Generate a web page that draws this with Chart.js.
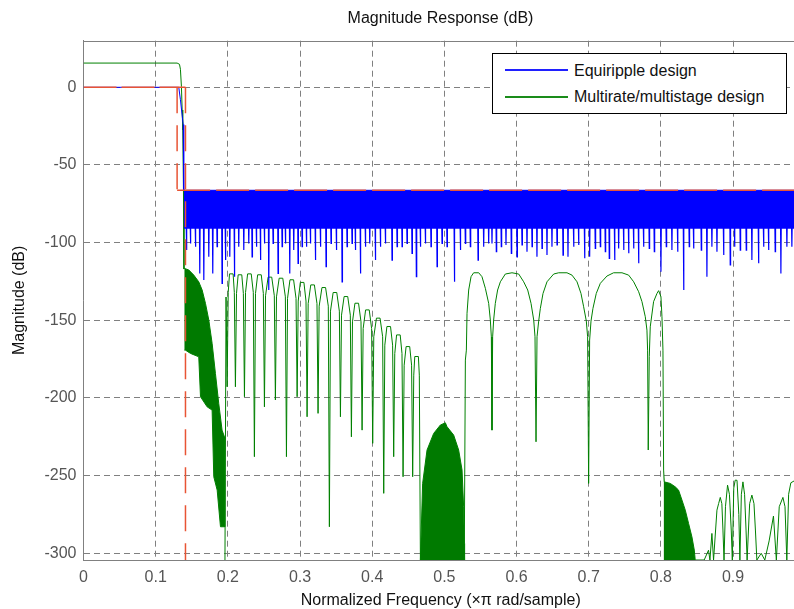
<!DOCTYPE html>
<html lang="en">
<head>
<meta charset="UTF-8">
<title>Magnitude Response (dB)</title>
<style>
    html, body { margin: 0; padding: 0; background: #fff; overflow: hidden; }
    #wrap { position: relative; width: 798px; height: 609px; }
    #title { position: absolute; left: 0; top: 9px; width: 881px; text-align: center; font: 16px/18px "Liberation Sans", Arial, sans-serif; color: #111; }
    #legend { position: absolute; left: 492px; top: 53px; width: 293px; height: 59px; border: 1px solid #000; background: #fff; font: 16px/18px "Liberation Sans", Arial, sans-serif; color: #111; }
    .swatch { position: absolute; left: 12px; width: 63px; height: 2px; }
    .label { position: absolute; left: 81px; white-space: nowrap; }
</style>
</head>
<body>
<div id="wrap">
    <canvas id="chart" width="798" height="609"></canvas>
    <div id="title">Magnitude Response (dB)</div>
    <div id="legend">
        <div class="swatch" style="top:15px;background:#2020ff"></div>
        <div class="label" style="top:8px">Equiripple design</div>
        <div class="swatch" style="top:42px;background:#1a8c1a"></div>
        <div class="label" style="top:34px">Multirate/multistage design</div>
    </div>
</div>

<script src="https://cdn.jsdelivr.net/npm/chart.js"></script>
<script>
    // axis ranges (normalized frequency, dB)
    const xRange = [0, 0.99];
    const yRange = [-304.3, 30];

    // specification mask (red dashed)
    const maskPassband = [[0, 0], [0.1413, 0]];
    const maskPassEdge = [[0.1413, 0], [0.1413, -304.3]];
    const maskStopEdge = [[0.1297, 0], [0.1297, -66.3]];
    const maskStopband = [[0.1297, -66.3], [0.99, -66.3]];

    // equiripple design
    const bluePassband = [[0, 0], [0.1320, 0], [0.1343, -8], [0.1381, -24], [0.1389, -66.3]];
    const blueBand = [[0.1389, -66.3], [0.99, -66.3]];
    const blueBandFloor = -91;
    const blueSpikeBase = -86;
    const blueSpikes = [
        [0.1427, -104.8], [0.1482, -100.5], [0.1551, -102.6], [0.1611, -119.8], [0.1667, -124.1],
        [0.1736, -109.1], [0.1791, -119.8], [0.1851, -102.6], [0.1920, -126.2], [0.1967, -111.2],
        [0.2027, -109.1], [0.2091, -121.9], [0.2151, -102.6], [0.2221, -104.8], [0.2290, -100.5],
        [0.2336, -109.1], [0.2396, -102.6], [0.2452, -111.2], [0.2507, -100.5], [0.2567, -130.5],
        [0.2627, -100.5], [0.2696, -119.8], [0.2752, -102.6], [0.2798, -100.5], [0.2858, -119.8],
        [0.2913, -104.8], [0.2973, -113.3], [0.3029, -102.6], [0.3089, -102.6], [0.3144, -100.5],
        [0.3213, -111.2], [0.3283, -102.6], [0.3361, -115.5], [0.3430, -100.5], [0.3504, -104.8],
        [0.3583, -125.2], [0.3652, -102.6], [0.3721, -100.5], [0.3767, -104.8], [0.3837, -119.8],
        [0.3906, -102.6], [0.3966, -100.5], [0.4044, -111.2], [0.4114, -102.6], [0.4183, -100.5],
        [0.4275, -111.2], [0.4345, -102.6], [0.4414, -102.6], [0.4483, -100.5], [0.4552, -106.9],
        [0.4612, -121.9], [0.4668, -102.6], [0.4737, -100.5], [0.4815, -102.6], [0.4899, -115.5],
        [0.4968, -100.5], [0.5037, -102.6], [0.5139, -125.2], [0.5222, -104.8], [0.5291, -100.5],
        [0.5360, -102.6], [0.5467, -111.2], [0.5545, -102.6], [0.5614, -100.5], [0.5660, -100.5],
        [0.5720, -105.8], [0.5789, -102.6], [0.5854, -101.5], [0.5928, -106.9], [0.6007, -109.1],
        [0.6076, -101.5], [0.6145, -105.8], [0.6215, -102.6], [0.6283, -109.1], [0.6353, -103.7],
        [0.6422, -108.0], [0.6491, -102.6], [0.6561, -101.5], [0.6644, -108.0], [0.6713, -109.1],
        [0.6791, -102.6], [0.6860, -101.5], [0.6943, -110.1], [0.7013, -109.1], [0.7091, -103.7],
        [0.7161, -102.6], [0.7230, -105.8], [0.7285, -110.1], [0.7359, -111.2], [0.7415, -103.7],
        [0.7484, -104.8], [0.7553, -106.9], [0.7622, -103.7], [0.7691, -113.3], [0.7760, -102.6],
        [0.7839, -103.7], [0.7909, -105.8], [0.8001, -118.7], [0.8075, -102.6], [0.8153, -104.8],
        [0.8232, -105.8], [0.8315, -130.5], [0.8393, -102.6], [0.8453, -103.7], [0.8560, -104.8],
        [0.8638, -121.9], [0.8707, -102.6], [0.8777, -105.8], [0.8869, -108.0], [0.8961, -114.4],
        [0.9021, -102.6], [0.9100, -104.8], [0.9183, -104.8], [0.9261, -111.2], [0.9353, -113.3],
        [0.9423, -102.6], [0.9492, -104.8], [0.9584, -105.8], [0.9663, -119.8], [0.9746, -102.6],
        [0.9815, -102.6]
    ];

    // multirate/multistage design
    const greenPassband = [
        [0, 15.6], [0.1297, 15.6], [0.1330, 14.8], [0.1343, 11.6], [0.1357, 0.4],
        [0.1367, -14.6], [0.1375, -27.5], [0.1385, -66], [0.1392, -117]
    ];
    const greenHump1 = [
        [0.1399, -116.6], [0.1459, -117.6], [0.1528, -120.9], [0.1597, -125.2], [0.1644, -130.5],
        [0.1690, -139.1], [0.1736, -149.8], [0.1782, -164.8], [0.1828, -184.2], [0.1874, -203.5],
        [0.1920, -220.7], [0.1953, -225], [0.1957, -282.9], [0.1898, -282.9], [0.1852, -259.3],
        [0.1805, -250.7], [0.1782, -207.8], [0.1713, -205.7], [0.1621, -199.2], [0.1597, -173.5],
        [0.1482, -171.3], [0.1413, -169.2], [0.1399, -169.2]
    ];
    const greenLobes = [
        [0.1960, -304.3], [0.1975, -135], [0.1990, -192.8],
        [0.2005, -132.1], [0.2023, -120.1], [0.2073, -120.1], [0.2090, -132.1], [0.2105, -192.8],
        [0.2120, -132.7], [0.2143, -120.7], [0.2193, -120.7], [0.2215, -132.7], [0.2230, -199.2],
        [0.2245, -132.1], [0.2274, -120.1], [0.2324, -120.1], [0.2353, -132.1], [0.2368, -237.8],
        [0.2383, -132.7], [0.2413, -120.7], [0.2463, -120.7], [0.2492, -132.7], [0.2507, -205.7],
        [0.2522, -134.2], [0.2558, -122.2], [0.2608, -122.2], [0.2644, -134.2], [0.2659, -201.3],
        [0.2674, -134.9], [0.2711, -122.9], [0.2761, -122.9], [0.2797, -134.9], [0.2812, -237.8],
        [0.2827, -135.9], [0.2861, -123.9], [0.2911, -123.9], [0.2945, -135.9], [0.2960, -199.2],
        [0.2975, -137.6], [0.3004, -125.6], [0.3054, -125.6], [0.3083, -137.6], [0.3098, -212.1],
        [0.3113, -139.2], [0.3149, -127.2], [0.3199, -127.2], [0.3235, -139.2], [0.3250, -209.9],
        [0.3265, -140.9], [0.3304, -128.9], [0.3354, -128.9], [0.3392, -140.9], [0.3407, -282.9],
        [0.3422, -144.1], [0.3459, -132.1], [0.3509, -132.1], [0.3545, -144.1], [0.3560, -212.1],
        [0.3575, -146.7], [0.3611, -134.7], [0.3661, -134.7], [0.3697, -146.7], [0.3712, -225],
        [0.3727, -151.0], [0.3761, -139.0], [0.3811, -139.0], [0.3845, -151.0], [0.3860, -220.7],
        [0.3875, -155.3], [0.3909, -143.3], [0.3959, -143.3], [0.3992, -155.3], [0.4007, -229.2],
        [0.4022, -160.6], [0.4059, -148.6], [0.4109, -148.6], [0.4145, -160.6], [0.4160, -261.4],
        [0.4175, -166.0], [0.4204, -154.0], [0.4254, -154.0], [0.4283, -166.0], [0.4298, -237.8],
        [0.4313, -171.4], [0.4338, -159.4], [0.4388, -159.4], [0.4413, -171.4], [0.4428, -250.7],
        [0.4443, -178.9], [0.4470, -166.9], [0.4520, -166.9], [0.4546, -178.9], [0.4561, -250.7],
        [0.4576, -185.3], [0.4590, -173.3], [0.4640, -173.3], [0.4653, -185.3], [0.4668, -304.3]
    ];
    const greenHump2 = [
        [0.4668, -304.3], [0.4699, -255], [0.4760, -233.5], [0.4852, -222.8], [0.4945, -217.4],
        [0.5014, -216], [0.5037, -218.5], [0.5129, -223.9], [0.5198, -233.5], [0.5245, -246.4],
        [0.5267, -270], [0.5277, -293.6], [0.5280, -304.3]
    ];
    const greenArcs = [
        [0.5277, -293.6], [0.5291, -175.6], [0.5305, -169.2], [0.5314, -145.5], [0.5337, -130.5],
        [0.5370, -121.9], [0.5406, -119.4], [0.5476, -119.4], [0.5521, -121.9], [0.5568, -129.4],
        [0.5614, -139.1], [0.5637, -149.8], [0.5651, -160.6], [0.5660, -220.7],
        [0.5669, -160.6], [0.5683, -149.8], [0.5706, -139.1], [0.5738, -130.5], [0.5776, -125.2],
        [0.5845, -120.2], [0.5937, -119.4], [0.6030, -120.2], [0.6099, -125.2], [0.6155, -130.5],
        [0.6201, -139.1], [0.6238, -149.8], [0.6256, -160.6], [0.6270, -228.2],
        [0.6284, -160.6], [0.6307, -150.5], [0.6330, -142.3], [0.6367, -132.7], [0.6422, -125.2],
        [0.6515, -120.2], [0.6584, -119.4], [0.6699, -119.4], [0.6768, -120.9], [0.6838, -125.2],
        [0.6893, -132.7], [0.6930, -141.3], [0.6967, -150.5], [0.6985, -160.6], [0.6999, -255],
        [0.7013, -162.7], [0.7032, -150.5], [0.7059, -142.3], [0.7105, -132.7], [0.7161, -126.2],
        [0.7253, -121.5], [0.7345, -119.4], [0.7461, -119.4], [0.7553, -120.9], [0.7623, -125.2],
        [0.7692, -131.6], [0.7738, -138.0], [0.7784, -147.7], [0.7807, -156.3], [0.7816, -169.2],
        [0.7825, -233.5], [0.7839, -173.4], [0.7853, -154.2], [0.7899, -138.0], [0.7946, -132.7],
        [0.7969, -130.9], [0.8001, -134.8], [0.8015, -147.7], [0.8029, -169.2], [0.8038, -246.4]
    ];
    const greenHump3 = [
        [0.8038, -246.4], [0.8047, -254], [0.8130, -255], [0.8199, -257.2], [0.8245, -259.3],
        [0.8292, -265.7], [0.8338, -272.2], [0.8384, -280.8], [0.8430, -289.4], [0.8463, -297.9],
        [0.8476, -304.3]
    ];
    const greenTail = [
        [0.8476, -304.3], [0.8600, -304.3], [0.8660, -298], [0.8680, -304.3], [0.8707, -287.2],
        [0.8730, -304.3], [0.8777, -272.2], [0.8800, -268], [0.8823, -264], [0.8845, -268],
        [0.8860, -285], [0.8875, -304.3], [0.8895, -270], [0.8924, -256.1], [0.8950, -262],
        [0.8975, -285], [0.8990, -304.3], [0.9010, -258], [0.9030, -252.9], [0.9055, -253],
        [0.9080, -275], [0.9095, -304.3], [0.9115, -262], [0.9137, -254], [0.9160, -262],
        [0.9180, -285], [0.9195, -304.3], [0.9230, -268], [0.9261, -262.5], [0.9290, -268],
        [0.9310, -285], [0.9330, -304.3], [0.9390, -300], [0.9440, -304.3], [0.9500, -292],
        [0.9560, -276], [0.9600, -304.3], [0.9640, -270], [0.9691, -264], [0.9720, -270],
        [0.9745, -304.3], [0.9770, -262], [0.9801, -254.6], [0.9900, -252]
    ];

    const BLUE = '#0000ff';
    const GREEN = '#008000';
    const RED = 'rgb(232, 84, 52)';
    const FONT = '"Liberation Sans", Arial, sans-serif';

    const pts = arr => arr.map(([x, y]) => ({x, y}));

    function lineSet(data, color, extra) {
        return Object.assign({
            data: pts(data),
            borderColor: color,
            backgroundColor: color,
            borderWidth: 1,
            pointRadius: 0,
            tension: 0,
            fill: false
        }, extra || {});
    }

    const spikeData = blueSpikes.flatMap(([x, d]) => [
        [x - 0.0005, blueSpikeBase], [x, d], [x + 0.0005, blueSpikeBase]
    ]);

    // top edge of the axes box
    const frame = {
        id: 'frame',
        beforeDatasetsDraw(chart) {
            const {ctx, chartArea: a} = chart;
            const y = Math.round(a.top) + 0.5;
            ctx.save();
            ctx.strokeStyle = '#808080';
            ctx.lineWidth = 1;
            ctx.beginPath();
            ctx.moveTo(a.left, y);
            ctx.lineTo(a.right, y);
            ctx.stroke();
            ctx.restore();
        }
    };

    new Chart(document.getElementById('chart'), {
        type: 'line',
        data: {
            datasets: [
                lineSet(maskPassband, RED, {order: 0, borderWidth: 1.5, borderDash: [33, 5]}),
                lineSet(maskPassEdge, RED, {order: 0, borderWidth: 1.5, borderDash: [26, 12]}),
                lineSet(maskStopEdge, RED, {order: 0, borderWidth: 1.5, borderDash: [26, 12]}),
                lineSet(maskStopband, RED, {order: 0, borderWidth: 1.5, borderDash: [33, 6]}),
                lineSet(bluePassband, BLUE, {order: 1}),
                lineSet(blueBand, BLUE, {order: 1, fill: {value: blueBandFloor}}),
                lineSet(spikeData, BLUE, {order: 1, borderWidth: 1.2}),
                lineSet(greenPassband, GREEN, {order: 2}),
                lineSet(greenHump1, GREEN, {order: 2, fill: 'shape', backgroundColor: '#007a00'}),
                lineSet(greenLobes, GREEN, {order: 2}),
                lineSet(greenHump2, GREEN, {order: 2, fill: 'start', backgroundColor: '#007a00'}),
                lineSet(greenArcs, GREEN, {order: 2}),
                lineSet(greenHump3, GREEN, {order: 2, fill: 'start', backgroundColor: '#007a00'}),
                lineSet(greenTail, GREEN, {order: 2})
            ]
        },
        options: {
            responsive: false,
            animation: false,
            events: [],
            layout: { padding: { top: 40.7, left: 0, right: 0, bottom: 0 } },
            plugins: {
                legend: { display: false },
                tooltip: { enabled: false },
                title: { display: false }
            },
            scales: {
                x: {
                    type: 'linear',
                    min: xRange[0],
                    max: xRange[1],
                    afterFit: s => { s.height = 49; },
                    grid: { color: '#808080', drawTicks: false },
                    border: { color: '#808080', dash: [6, 4] },
                    ticks: {
                        stepSize: 0.1,
                        includeBounds: false,
                        autoSkip: false,
                        maxRotation: 0,
                        padding: 8,
                        color: '#555',
                        font: { family: FONT, size: 16 },
                        callback: v => v === 0 ? '0' : v.toFixed(1)
                    },
                    title: {
                        display: true,
                        text: 'Normalized Frequency (\u00d7\u03c0 rad/sample)',
                        color: '#111',
                        font: { family: FONT, size: 16, lineHeight: 1 },
                        padding: { top: 0, bottom: 0 }
                    }
                },
                y: {
                    type: 'linear',
                    min: yRange[0],
                    max: yRange[1],
                    afterFit: s => { s.width = 83.5; },
                    grid: { color: '#808080', drawTicks: false },
                    border: { color: '#808080', dash: [6, 4] },
                    ticks: {
                        stepSize: 50,
                        includeBounds: false,
                        padding: 7,
                        color: '#555',
                        font: { family: FONT, size: 16 },
                        callback: v => String(v)
                    },
                    title: {
                        display: true,
                        text: 'Magnitude (dB)',
                        color: '#111',
                        font: { family: FONT, size: 16, lineHeight: 1 },
                        padding: { top: 12, bottom: 0 }
                    }
                }
            }
        },
        plugins: [frame]
    });
</script>
</body>
</html>
